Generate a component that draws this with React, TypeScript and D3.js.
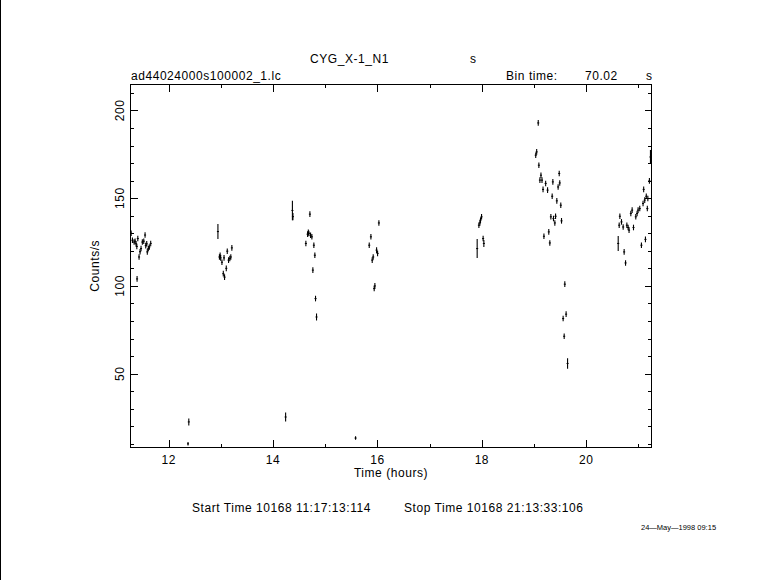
import React from "react";
import * as d3 from "d3";

// Light curve: time (hours), rate (counts/s), 1-sigma error (counts/s)
const times: number[] = [
  11.280, 11.305, 11.337, 11.356, 11.375, 11.389, 11.394, 11.408, 11.432, 11.451,
  11.470, 11.495, 11.522, 11.547, 11.560, 11.579, 11.590, 11.610, 11.629, 11.655,
  12.370, 12.385,
  12.943, 12.972, 12.985, 12.995, 13.020, 13.046, 13.060, 13.070, 13.103, 13.122,
  13.147, 13.171, 13.190, 13.210,
  14.240,
  14.370, 14.380, 14.628, 14.661, 14.675, 14.685, 14.705, 14.718, 14.743, 14.762,
  14.781, 14.800, 14.813, 14.832,
  15.580,
  15.842, 15.874, 15.899, 15.918, 15.937, 15.950, 15.983, 16.002, 16.027,
  17.910, 17.943, 17.962, 17.974, 17.994, 18.024, 18.038,
  19.032, 19.050, 19.080, 19.092, 19.112, 19.132, 19.152, 19.172, 19.189, 19.222,
  19.259, 19.282, 19.302, 19.322, 19.347, 19.360, 19.372, 19.398, 19.412, 19.436,
  19.461, 19.482, 19.492, 19.512, 19.526, 19.557, 19.577, 19.589, 19.614, 19.642,
  20.612, 20.631, 20.644, 20.675, 20.707, 20.726, 20.753, 20.778, 20.802, 20.820,
  20.854, 20.879, 20.905, 20.949, 20.974, 20.993, 21.025, 21.057, 21.088, 21.100,
  21.120, 21.134, 21.150, 21.170, 21.180, 21.210, 21.230,
];

const rates: number[] = [
  130, 126, 125, 125.5, 124, 122.5, 104, 127, 116.5, 119.5,
  121.3, 125, 125.5, 129, 123, 124, 119.4, 121.3, 122.2, 124.2,
  10, 22.5,
  131, 116.5, 117.5, 116, 113.5, 107, 116, 105, 110, 119.8,
  114.7, 115.6, 116.5, 121.7,
  25.3,
  143, 139.5, 124.2, 129.5, 130.5, 129.9, 140.9, 128.9, 128, 109,
  123.2, 117.5, 92.8, 82.3,
  13.3,
  123.2, 128, 114.7, 116.5, 98.5, 100, 120.4, 118.5, 135.9,
  121.3, 134.6, 135.9, 137.5, 139.4, 127, 124.2,
  174.5, 176.4, 192.9, 168.8, 160.3, 163.1, 160.3, 155, 128.3, 158.4,
  154.6, 130.8, 124.5, 139.4, 151.1, 159.3, 138.4, 135.9, 139.7, 148.5,
  156.4, 164.1, 158.7, 146, 137.1, 81.4, 71.3, 101, 83.9, 55.8,
  124.2, 134.6, 139.7, 136.5, 133.6, 119.4, 113.1, 134.6, 133.3, 131.8,
  141.3, 143.2, 133.3, 139.4, 141.3, 143.2, 144.1, 123.2, 147, 155,
  148.9, 126.5, 151.1, 144.1, 149.8, 159.9, 173.5,
];

const errors: number[] = [
  1.6, 1.6, 1.6, 1.6, 1.6, 1.6, 1.6, 1.6, 1.6, 1.6,
  1.6, 1.6, 1.6, 1.6, 1.6, 1.6, 1.6, 1.6, 1.6, 1.6,
  1.0, 2.0,
  4.3, 1.6, 1.6, 1.6, 1.6, 1.6, 1.6, 1.6, 1.6, 1.6,
  1.6, 1.6, 1.6, 1.6,
  2.5,
  5.5, 2.0, 1.6, 1.6, 1.6, 1.6, 1.6, 1.6, 1.6, 1.6,
  1.6, 1.6, 1.6, 2.0,
  1.0,
  1.6, 1.6, 1.6, 1.6, 1.6, 1.6, 1.6, 1.6, 1.6,
  5.4, 1.6, 1.6, 1.6, 1.6, 1.6, 2.0,
  1.6, 1.6, 1.6, 1.6, 1.6, 1.6, 1.6, 1.6, 1.6, 1.6,
  1.6, 1.6, 1.6, 1.6, 1.6, 1.6, 1.6, 1.6, 1.6, 1.6,
  1.6, 1.6, 1.6, 1.6, 1.6, 1.6, 1.6, 1.6, 1.6, 3.0,
  4.3, 1.6, 1.6, 1.6, 1.6, 1.6, 1.6, 1.6, 1.6, 1.6,
  1.6, 1.6, 1.6, 1.6, 1.6, 1.6, 1.6, 1.6, 1.6, 1.6,
  1.6, 1.6, 1.6, 1.6, 1.6, 1.6, 4.0,
];

const binTimeSec = 70.02;
const xMajorTicks: number[] = [12, 14, 16, 18, 20];
const xMinorTicks: number[] = [12, 13, 14, 15, 16, 17, 18, 19, 20, 21];
const yMajorTicks: number[] = [50, 100, 150, 200];
const yMinorTicks: number[] = [10, 20, 30, 40, 50, 60, 70, 80, 90, 100, 110, 120, 130, 140, 150, 160, 170, 180, 190, 200, 210];
const xDomain: [number, number] = [11.268, 21.25];
const yDomain: [number, number] = [8.2, 214.8];

const titleText = "CYG_X-1_N1";
const fileText = "ad44024000s100002_1.lc";
const startText = "Start Time 10168 11:17:13:114";
const stopText = "Stop Time 10168 21:13:33:106";
const dateText = "24\u2014May\u20141998 09:15";

export default function App() {
  const W = 781, H = 580;
  const left = 130.5, right = 651.5, top = 84.5, bottom = 447;
  const x = d3.scaleLinear().domain(xDomain).range([left, right]);
  const y = d3.scaleLinear().domain(yDomain).range([bottom, top]);
  const halfBin = binTimeSec / 3600 / 2;
  const font = "'Liberation Sans', Arial, sans-serif";
  const ls = 0.55;
  const minorX = xMinorTicks.filter((t) => !xMajorTicks.includes(t));
  const minorY = yMinorTicks.filter((t) => !yMajorTicks.includes(t));

  return (
    <div style={{ position: "fixed", left: 0, top: 0, width: W, height: H, background: "#fff" }}>
      <svg width={W} height={H} style={{ display: "block" }} fontFamily={font}>
        <rect x={0} y={0} width={W} height={H} fill="#fff" />
        <line x1={0.5} y1={0} x2={0.5} y2={H} stroke="#000" strokeWidth={1} />

        {/* frame */}
        <rect x={left} y={top} width={right - left} height={bottom - top} fill="none" stroke="#000" strokeWidth={1} shapeRendering="crispEdges" />

        {/* x ticks bottom & top */}
        {xMajorTicks.map((t) => (
          <g key={"xM" + t} stroke="#000" shapeRendering="crispEdges">
            <line x1={Math.round(x(t)) + 0.5} x2={Math.round(x(t)) + 0.5} y1={bottom} y2={bottom - 7} />
            <line x1={Math.round(x(t)) + 0.5} x2={Math.round(x(t)) + 0.5} y1={top} y2={top + 7} />
          </g>
        ))}
        {minorX.map((t) => (
          <g key={"xm" + t} stroke="#000" shapeRendering="crispEdges">
            <line x1={Math.round(x(t)) + 0.5} x2={Math.round(x(t)) + 0.5} y1={bottom} y2={bottom - 3.5} />
            <line x1={Math.round(x(t)) + 0.5} x2={Math.round(x(t)) + 0.5} y1={top} y2={top + 3.5} />
          </g>
        ))}
        {/* y ticks left & right */}
        {yMajorTicks.map((v) => (
          <g key={"yM" + v} stroke="#000" shapeRendering="crispEdges">
            <line x1={left} x2={left + 7} y1={Math.round(y(v)) + 0.5} y2={Math.round(y(v)) + 0.5} />
            <line x1={right} x2={right - 7} y1={Math.round(y(v)) + 0.5} y2={Math.round(y(v)) + 0.5} />
          </g>
        ))}
        {minorY.map((v) => (
          <g key={"ym" + v} stroke="#000" shapeRendering="crispEdges">
            <line x1={left} x2={left + 3.5} y1={Math.round(y(v)) + 0.5} y2={Math.round(y(v)) + 0.5} />
            <line x1={right} x2={right - 3.5} y1={Math.round(y(v)) + 0.5} y2={Math.round(y(v)) + 0.5} />
          </g>
        ))}

        <g letterSpacing={ls} fill="#000" fontSize={12}>
          {/* tick labels */}
          {xMajorTicks.map((t) => (
            <text key={"xl" + t} x={x(t)} y={464} textAnchor="middle">{t}</text>
          ))}
          {yMajorTicks.map((v) => (
            <text key={"yl" + v} transform={`translate(124,${y(v)}) rotate(-90)`} textAnchor="middle">{v}</text>
          ))}

          {/* axis titles */}
          <text x={(left + right) / 2} y={477} textAnchor="middle">Time (hours)</text>
          <text transform={`translate(99,${(top + bottom) / 2}) rotate(-90)`} textAnchor="middle">Counts/s</text>

          {/* header */}
          <text x={310} y={63}>{titleText}</text>
          <text x={470} y={63}>s</text>
          <text x={131} y={80}>{fileText}</text>
          <text x={506} y={80}>Bin time:</text>
          <text x={585} y={80}>{binTimeSec.toFixed(2)}</text>
          <text x={646} y={80}>s</text>

          {/* footer */}
          <text x={192} y={512}>{startText}</text>
          <text x={404} y={512}>{stopText}</text>
        </g>
        <text x={641} y={530} fontSize={7.5} fill="#000">{dateText}</text>

        {/* data with error bars */}
        <g stroke="#000" strokeWidth={1.1}>
          {times.map((t, i) => {
            const cx = x(t);
            const cy = y(rates[i]);
            return (
              <g key={"p" + i}>
                <line x1={cx} x2={cx} y1={y(rates[i] - errors[i])} y2={y(rates[i] + errors[i])} />
                <line x1={x(t - halfBin) - 0.5} x2={x(t + halfBin) + 0.5} y1={cy} y2={cy} />
              </g>
            );
          })}
        </g>
      </svg>
    </div>
  );
}
